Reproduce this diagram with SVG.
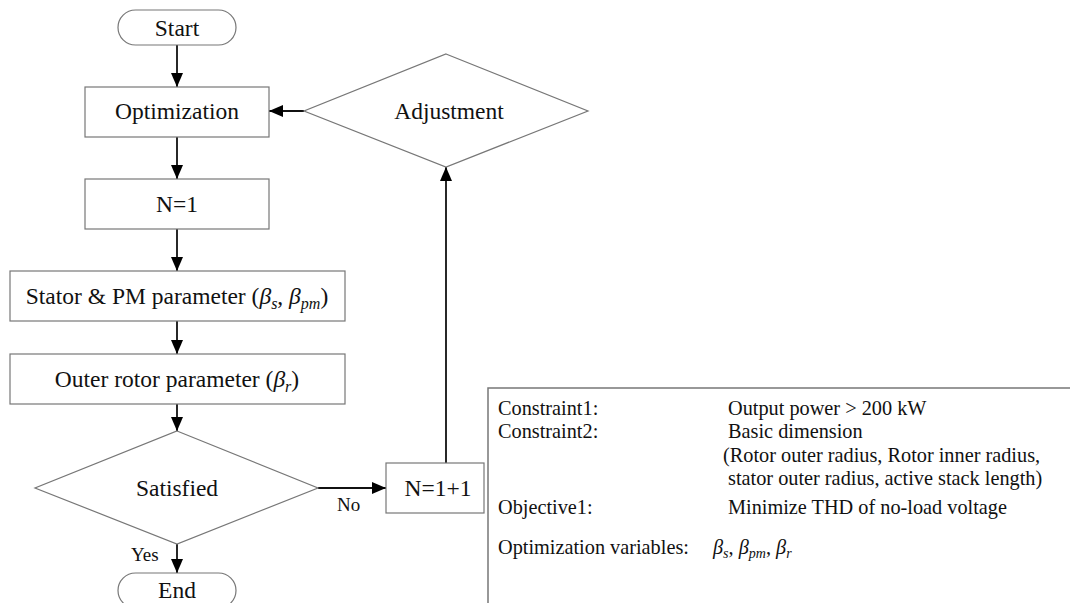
<svg xmlns="http://www.w3.org/2000/svg" width="1070" height="603" viewBox="0 0 1070 603">
<style>
.shape{fill:#fff;stroke:#777;stroke-width:1.2}
.t{font-family:"Liberation Serif","Times New Roman",serif;font-size:23.5px;fill:#111;text-anchor:middle}
.s{font-family:"Liberation Serif","Times New Roman",serif;font-size:20.3px;fill:#111}
.l{font-family:"Liberation Serif","Times New Roman",serif;font-size:19px;fill:#111}
.i{font-style:italic}
.conn{stroke:#111;stroke-width:1.8;fill:none}
</style>
<defs>
<marker id="ah" markerUnits="userSpaceOnUse" markerWidth="14" markerHeight="14" viewBox="0 0 14 12" refX="14" refY="6" orient="auto">
<path d="M0,0 L14,6 L0,12 z" fill="#000"/>
</marker>
</defs>
<rect width="1070" height="603" fill="#fff"/>
<g id="connectors">
<line class="conn" x1="177" y1="45" x2="177" y2="87" marker-end="url(#ah)"/>
<line class="conn" x1="177" y1="137" x2="177" y2="179" marker-end="url(#ah)"/>
<line class="conn" x1="177" y1="229" x2="177" y2="271" marker-end="url(#ah)"/>
<line class="conn" x1="177" y1="321" x2="177" y2="354" marker-end="url(#ah)"/>
<line class="conn" x1="177" y1="404" x2="177" y2="431" marker-end="url(#ah)"/>
<line class="conn" x1="177" y1="544" x2="177" y2="573" marker-end="url(#ah)"/>
<line class="conn" x1="318" y1="488" x2="386" y2="488" marker-end="url(#ah)"/>
<line class="conn" x1="446" y1="463" x2="446" y2="167" marker-end="url(#ah)"/>
<line class="conn" x1="304" y1="111" x2="269" y2="111" marker-end="url(#ah)"/>
<text class="l" x="337" y="511">No</text>
<text class="l" x="131" y="561">Yes</text>
</g>
<g id="start">
<rect class="shape" x="118" y="10" width="118" height="35" rx="17.5"/>
<text class="t" x="177" y="36">Start</text>
</g>
<g id="optimization">
<rect class="shape" x="85" y="87" width="184" height="50"/>
<text class="t" x="177" y="119">Optimization</text>
</g>
<g id="n1">
<rect class="shape" x="85" y="179" width="184" height="50"/>
<text class="t" x="177" y="212">N=1</text>
</g>
<g id="stator">
<rect class="shape" x="10" y="271" width="335" height="50"/>
<text class="t" x="177" y="304">Stator &amp; PM parameter (<tspan class="i">β</tspan><tspan class="i" font-size="16" dy="5">s</tspan><tspan dy="-5">, </tspan><tspan class="i">β</tspan><tspan class="i" font-size="16" dy="5">pm</tspan><tspan dy="-5">)</tspan></text>
</g>
<g id="outer">
<rect class="shape" x="10" y="354" width="335" height="50"/>
<text class="t" x="177" y="387">Outer rotor parameter (<tspan class="i">β</tspan><tspan class="i" font-size="16" dy="5">r</tspan><tspan dy="-5">)</tspan></text>
</g>
<g id="satisfied">
<polygon class="shape" points="177,431 318,488 177,544 35,488"/>
<text class="t" x="177" y="496">Satisfied</text>
</g>
<g id="end">
<rect class="shape" x="118" y="573" width="118" height="35" rx="17.5"/>
<text class="t" x="177" y="598">End</text>
</g>
<g id="n11">
<rect class="shape" x="386" y="463" width="98" height="50"/>
<text class="t" x="438" y="496">N=1+1</text>
</g>
<g id="adjustment">
<polygon class="shape" points="446,54 588,111 446,167 304,111"/>
<text class="t" x="449" y="119">Adjustment</text>
</g>
<g id="notes">
<rect x="488" y="388" width="600" height="240" fill="#fff" stroke="#777" stroke-width="1.5"/>
<text class="s" x="498" y="415">Constraint1:</text>
<text class="s" x="728" y="415">Output power &gt; 200 kW</text>
<text class="s" x="498" y="438">Constraint2:</text>
<text class="s" x="728" y="438">Basic dimension</text>
<text class="s" x="723" y="462">(Rotor outer radius, Rotor inner radius,</text>
<text class="s" x="728" y="485">stator outer radius, active stack length)</text>
<text class="s" x="498" y="514">Objective1:</text>
<text class="s" x="728" y="514">Minimize THD of no-load voltage</text>
<text class="s" x="498" y="554">Optimization variables: <tspan class="i" x="713">β</tspan><tspan class="i" font-size="14" dy="4">s</tspan><tspan dy="-4">, </tspan><tspan class="i">β</tspan><tspan class="i" font-size="14" dy="4">pm</tspan><tspan dy="-4">, </tspan><tspan class="i">β</tspan><tspan class="i" font-size="14" dy="4">r</tspan></text>
</g>
</svg>
